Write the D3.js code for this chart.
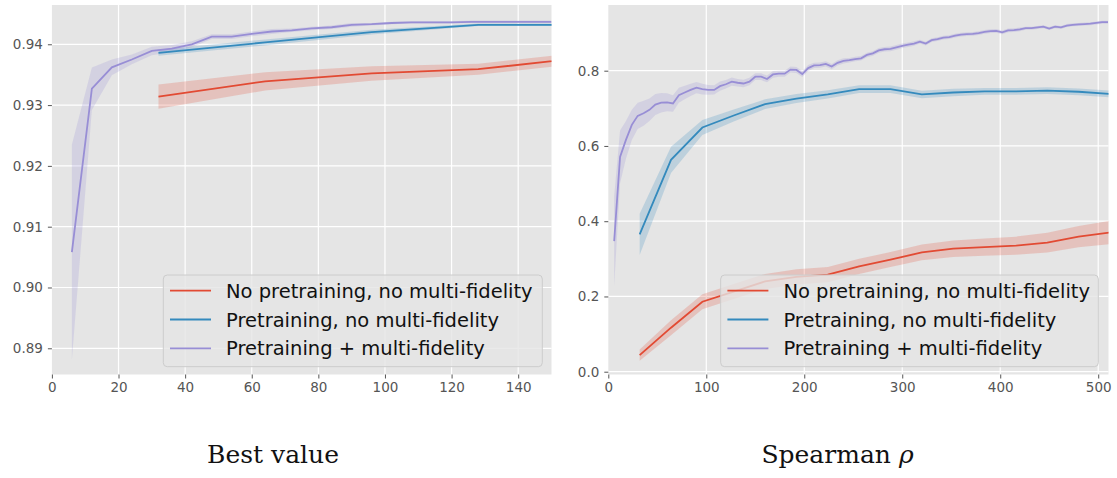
<!DOCTYPE html>
<html>
<head>
<meta charset="utf-8">
<script src="https://cdn.jsdelivr.net/npm/d3@7"></script>
<style>
  body { margin: 0; background: #fff; }
  svg { display: block; }
</style>
</head>
<body>
<div id="chart"></div>
<script>
var width = 1117;
var height = 478;

var seriesNames = ["No pretraining, no multi-fidelity", "Pretraining, no multi-fidelity", "Pretraining + multi-fidelity"];
var colors = ["#E24A33", "#348ABD", "#988ED5"];

// ---- left panel: best value ----
var bestXTicks = [0, 20, 40, 60, 80, 100, 120, 140];
var bestYTicks = [0.89, 0.90, 0.91, 0.92, 0.93, 0.94];

var bestX32 = [32, 64, 96, 128, 160];
var bestNoPre = [0.9314, 0.9339, 0.9352, 0.9359, 0.9378];
var bestNoPreErr = [0.0020, 0.0015, 0.0012, 0.0009, 0.0009];
var bestPre = [0.9386, 0.9403, 0.9420, 0.9432, 0.9432];
var bestPreErr = [0.0005, 0.0005, 0.0004, 0.0002, 0.0002];

var bestXMf = [6, 12, 18, 24, 30, 36, 42, 48, 54, 60, 66, 72, 78, 84, 90, 96, 102, 108, 114, 120, 126, 132, 138, 144, 150];
var bestMf = [0.9058, 0.9327, 0.9362, 0.9375, 0.9389, 0.9393, 0.9400, 0.94125, 0.94125, 0.9417, 0.9421, 0.9423, 0.9426, 0.9428, 0.9432,
  0.9433, 0.9435, 0.9436, 0.9436, 0.9436, 0.9437, 0.9437, 0.9437, 0.9437, 0.9437];
var bestMfErr = [0.0177, 0.0035, 0.0013, 0.0008, 0.0007, 0.0006, 0.0005, 0.0004, 0.0004, 0.0004, 0.0004, 0.0003, 0.0003, 0.0003, 0.0003,
  0.0002, 0.0002, 0.0002, 0.0002, 0.0002, 0.0002, 0.0002, 0.0002, 0.0002, 0.0002];

// ---- right panel: spearman rho ----
var rhoXTicks = [0, 100, 200, 300, 400, 500];
var rhoYTicks = [0.0, 0.2, 0.4, 0.6, 0.8];

var rhoX32 = [32, 64, 96, 128, 160, 192, 224, 256, 288, 320, 352, 384, 416, 448, 480, 512];
var rhoNoPre = [0.044, 0.117, 0.186, 0.213, 0.240, 0.252, 0.258, 0.280, 0.298, 0.317, 0.327, 0.331, 0.335, 0.343, 0.359, 0.370];
var rhoNoPreErr = [0.015, 0.020, 0.020, 0.020, 0.020, 0.020, 0.020, 0.020, 0.020, 0.021, 0.022, 0.023, 0.024, 0.026, 0.028, 0.031];
var rhoPre = [0.365, 0.563, 0.649, 0.681, 0.711, 0.726, 0.737, 0.751, 0.751, 0.737, 0.742, 0.745, 0.745, 0.747, 0.744, 0.738];
var rhoPreErr = [0.055, 0.035, 0.020, 0.016, 0.013, 0.012, 0.011, 0.010, 0.010, 0.010, 0.010, 0.009, 0.009, 0.009, 0.009, 0.009];

var rhoXMf = [6, 12, 18, 24, 30, 36, 42, 48, 54, 60,
  66, 72, 78, 84, 90, 96, 102, 108, 114, 120,
  126, 132, 138, 144, 150, 156, 162, 168, 174, 180,
  186, 192, 198, 204, 210, 216, 222, 228, 234, 240,
  246, 252, 258, 264, 270, 276, 282, 288, 294, 300,
  306, 312, 318, 324, 330, 336, 342, 348, 354, 360,
  366, 372, 378, 384, 390, 396, 402, 408, 414, 420,
  426, 432, 438, 444, 450, 456, 462, 468, 474, 480,
  486, 492, 498, 504, 510];
var rhoMf = [0.347, 0.571, 0.616, 0.656, 0.680, 0.687, 0.696, 0.710, 0.715, 0.716,
  0.713, 0.735, 0.742, 0.749, 0.755, 0.751, 0.749, 0.749, 0.759, 0.764,
  0.771, 0.768, 0.766, 0.771, 0.784, 0.784, 0.778, 0.790, 0.792, 0.792,
  0.803, 0.802, 0.791, 0.807, 0.814, 0.815, 0.818, 0.811, 0.821, 0.826,
  0.828, 0.831, 0.833, 0.842, 0.846, 0.854, 0.857, 0.858, 0.862, 0.866,
  0.869, 0.872, 0.877, 0.872, 0.881, 0.884, 0.888, 0.889, 0.893, 0.896,
  0.897, 0.898, 0.900, 0.903, 0.905, 0.906, 0.902, 0.907, 0.908, 0.910,
  0.913, 0.913, 0.915, 0.917, 0.912, 0.917, 0.915, 0.920, 0.922, 0.923,
  0.924, 0.925, 0.927, 0.929, 0.929];
var rhoMfErr = [0.120, 0.070, 0.050, 0.040, 0.035, 0.033, 0.030, 0.028, 0.026, 0.024,
  0.022, 0.020, 0.018, 0.016, 0.015, 0.014, 0.013, 0.012, 0.012, 0.011,
  0.011, 0.010, 0.010, 0.010, 0.009, 0.009, 0.009, 0.009, 0.008, 0.008,
  0.008, 0.008, 0.008, 0.008, 0.007, 0.007, 0.007, 0.007, 0.007, 0.007,
  0.006, 0.006, 0.006, 0.006, 0.006, 0.006, 0.006, 0.006, 0.006, 0.006,
  0.006, 0.006, 0.005, 0.005, 0.005, 0.005, 0.005, 0.005, 0.005, 0.005,
  0.005, 0.005, 0.005, 0.005, 0.005, 0.005, 0.005, 0.005, 0.005, 0.005,
  0.004, 0.004, 0.004, 0.004, 0.004, 0.004, 0.004, 0.004, 0.004, 0.004,
  0.004, 0.004, 0.004, 0.004, 0.004];

var svg = d3.select("#chart")
  .append("svg")
  .attr("width", width)
  .attr("height", height);

function zipSeries(xs, ys, es) {
  return xs.map((x, i) => ({ x: x, y: ys[i], e: es[i] }));
}

var panels = [
  {
    id: "best",
    left: 51.9, right: 551.5,
    xDomain: [0, 150], yDomain: [0.88569, 0.94646],
    xTicks: bestXTicks, yTicks: bestYTicks, yFormat: d3.format(".2f"),
    series: [
      zipSeries(bestX32, bestNoPre, bestNoPreErr),
      zipSeries(bestX32, bestPre, bestPreErr),
      zipSeries(bestXMf, bestMf, bestMfErr)
    ],
    legendX: 163.3, legendRight: 542.3,
    title: ["Best value"], titleX: 273
  },
  {
    id: "rho",
    left: 608.3, right: 1108.5,
    xDomain: [0, 510.5], yDomain: [-0.0074, 0.9746],
    xTicks: rhoXTicks, yTicks: rhoYTicks, yFormat: d3.format(".1f"),
    series: [
      zipSeries(rhoX32, rhoNoPre, rhoNoPreErr),
      zipSeries(rhoX32, rhoPre, rhoPreErr),
      zipSeries(rhoXMf, rhoMf, rhoMfErr)
    ],
    legendX: 720.7, legendRight: 1098.3,
    title: ["Spearman ", "ρ"], titleX: 837.5
  }
];

var plotTop = 5, plotBottom = 374.5;

panels.forEach(function (p) {
  var x = d3.scaleLinear().domain(p.xDomain).range([p.left, p.right]);
  var y = d3.scaleLinear().domain(p.yDomain).range([plotBottom, plotTop]);

  var g = svg.append("g").attr("id", p.id);

  g.append("rect")
    .attr("x", p.left).attr("y", plotTop)
    .attr("width", p.right - p.left).attr("height", plotBottom - plotTop)
    .attr("fill", "#E5E5E5");

  // grid
  g.selectAll(".gx").data(p.xTicks.filter(t => x(t) > p.left + 1)).enter()
    .append("line")
    .attr("x1", d => x(d)).attr("x2", d => x(d))
    .attr("y1", plotTop).attr("y2", plotBottom)
    .attr("stroke", "#fff").attr("stroke-width", 1.2);
  g.selectAll(".gy").data(p.yTicks).enter()
    .append("line")
    .attr("x1", p.left).attr("x2", p.right)
    .attr("y1", d => y(d)).attr("y2", d => y(d))
    .attr("stroke", "#fff").attr("stroke-width", 1.2);

  // axes
  var xAxis = g.append("g")
    .attr("transform", "translate(0," + plotBottom + ")")
    .call(d3.axisBottom(x).tickValues(p.xTicks).tickSize(4).tickPadding(4).tickFormat(d3.format("d")));
  var yAxis = g.append("g")
    .attr("transform", "translate(" + p.left + ",0)")
    .call(d3.axisLeft(y).tickValues(p.yTicks).tickSize(4).tickPadding(5).tickFormat(p.yFormat));
  [xAxis, yAxis].forEach(function (a) {
    a.select(".domain").remove();
    a.attr("font-family", "DejaVu Sans").attr("font-size", 13.5);
    a.selectAll("line").attr("stroke", "#555").attr("stroke-width", 1);
    a.selectAll("text").attr("fill", "#555");
  });

  // clip
  var clipId = "clip-" + p.id;
  svg.append("clipPath").attr("id", clipId)
    .append("rect")
    .attr("x", p.left).attr("y", plotTop)
    .attr("width", p.right - p.left).attr("height", plotBottom - plotTop);

  var plot = g.append("g").attr("clip-path", "url(#" + clipId + ")");

  var area = d3.area()
    .x(d => x(d.x))
    .y0(d => y(d.y - d.e))
    .y1(d => y(d.y + d.e));
  var line = d3.line()
    .x(d => x(d.x))
    .y(d => y(d.y));

  p.series.forEach(function (s, i) {
    plot.append("path")
      .datum(s)
      .attr("d", area)
      .attr("fill", colors[i])
      .attr("fill-opacity", 0.22);
  });
  p.series.forEach(function (s, i) {
    plot.append("path")
      .datum(s)
      .attr("d", line)
      .attr("fill", "none")
      .attr("stroke", colors[i])
      .attr("stroke-width", 1.8);
  });

  // legend
  var legend = g.append("g").attr("class", "legend");
  legend.append("rect")
    .attr("x", p.legendX).attr("y", 275)
    .attr("width", p.legendRight - p.legendX).attr("height", 91.7)
    .attr("rx", 4)
    .attr("fill", "#E5E5E5").attr("fill-opacity", 0.8)
    .attr("stroke", "#CCCCCC").attr("stroke-width", 1);

  var rows = legend.selectAll(".row")
    .data(seriesNames)
    .enter()
    .append("g");
  rows.append("line")
    .attr("x1", p.legendX + 6.7).attr("x2", p.legendX + 47.7)
    .attr("y1", (d, i) => 290.7 + 28.8 * i).attr("y2", (d, i) => 290.7 + 28.8 * i)
    .attr("stroke", (d, i) => colors[i])
    .attr("stroke-width", 1.8);
  rows.append("text")
    .attr("x", p.legendX + 62.7)
    .attr("y", (d, i) => 290.7 + 28.8 * i + 7)
    .attr("fill", "#111")
    .style("font-family", "DejaVu Sans")
    .style("font-size", "19.5px")
    .text(d => d);

  // caption under the panel
  var title = svg.append("text")
    .attr("x", p.titleX).attr("y", 463.3)
    .attr("text-anchor", "middle")
    .attr("fill", "#111")
    .style("font-family", "DejaVu Serif")
    .style("font-size", "25px");
  title.append("tspan").text(p.title[0]);
  if (p.title[1]) title.append("tspan").style("font-style", "italic").text(p.title[1]);
});
</script>
</body>
</html>
